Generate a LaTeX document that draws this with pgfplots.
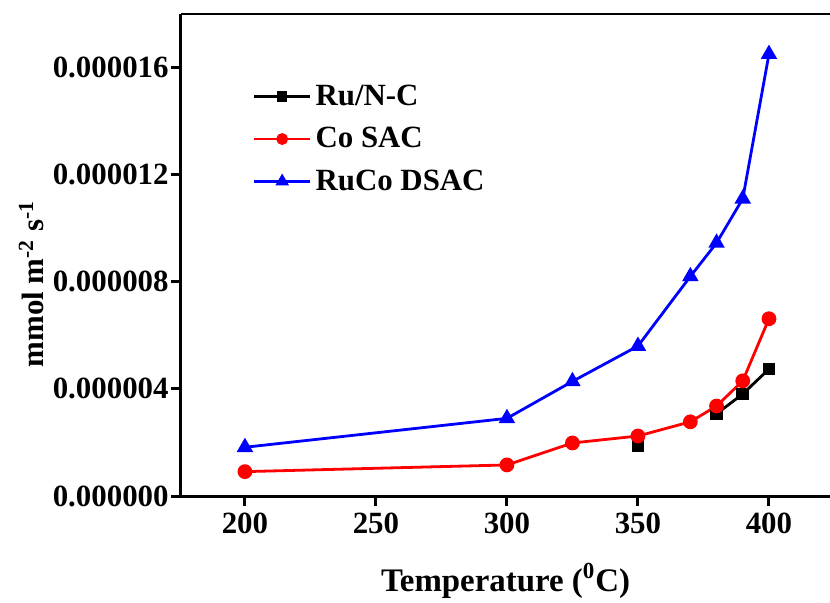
\documentclass[border=0pt]{standalone}
\usepackage{fontspec}
\setmainfont{Liberation Serif}
\usepackage{pgfplots}
\pgfplotsset{compat=1.18}
\begin{document}
\begin{tikzpicture}
\begin{axis}[
  name=ax,
  scale only axis,
  width=324.5bp, height=241bp,
  xmin=175.6, xmax=423.3,
  ymin=0, ymax=18e-6,
  axis x line*=bottom, axis y line*=left,
  axis line style={line width=1.5bp},
  every tick/.style={line width=1.5bp, black},
  tick align=outside,
  major tick length=5bp,
  xtick={200,250,300,350,400},
  xticklabels={200,250,300,350,400},
  ytick={0,4e-6,8e-6,12e-6,16e-6},
  yticklabels={0.000000,0.000004,0.000008,0.000012,0.000016},
  scaled y ticks=false,
  ticklabel style={font=\fontsize{15.5}{18}\selectfont\bfseries},
  yticklabel style={inner xsep=1bp},
  xlabel={Temperature (\textsuperscript{0}C)},
  ylabel={mmol m\textsuperscript{-2} s\textsuperscript{-1}},
  xlabel style={font=\fontsize{16.5}{19}\selectfont\bfseries, yshift=-8bp},
  ylabel style={font=\fontsize{15.5}{18}\selectfont\bfseries, at={(ticklabel cs:0.44)}, yshift=0bp},
  unbounded coords=jump,
  legend style={draw=none, fill=none, at={(rel axis cs:0.11,0.862)}, anchor=north west,
    font=\fontsize{15.5}{18}\selectfont\bfseries, row sep=5.5bp, inner sep=0pt},
  legend cell align=left,
  legend image code/.code={\draw[mark repeat=2,mark phase=2,#1, mark options={scale=0.75}] plot coordinates {(0bp,0bp) (14bp,0bp) (28bp,0bp)};},
]
\draw[line width=1.5bp] (rel axis cs:0,1) -- (rel axis cs:1,1);
\addplot[black, line width=1.4bp, mark=square*, mark size=2.5pt] coordinates {
(350,1.88e-6) (370,nan) (380,3.07e-6) (390,3.81e-6) (400,4.74e-6)};
\addlegendentry{Ru/N-C}
\addplot[red, line width=1.4bp, mark=*, mark size=3pt] coordinates {
(200,0.91e-6) (300,1.16e-6) (325,1.98e-6) (350,2.24e-6) (370,2.77e-6) (380,3.36e-6) (390,4.30e-6) (400,6.62e-6)};
\addlegendentry{Co SAC}
\addplot[blue, line width=1.4bp, mark=triangle*, mark size=3.4pt] coordinates {
(200,1.82e-6) (300,2.90e-6) (325,4.28e-6) (350,5.60e-6) (370,8.20e-6) (380,9.45e-6) (390,11.1e-6) (400,16.5e-6)};
\addlegendentry{RuCo DSAC}
\end{axis}
\pgfresetboundingbox
\path[use as bounding box] ([xshift=-90.5bp,yshift=-53.5bp]ax.south west) rectangle ([yshift=7bp]ax.north east);
\end{tikzpicture}
\end{document}
